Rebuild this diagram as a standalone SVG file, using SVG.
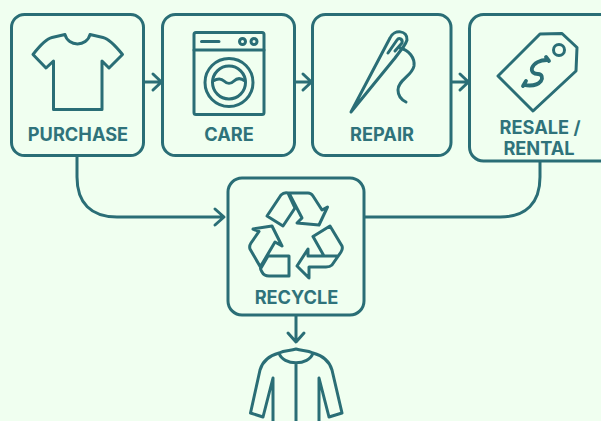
<svg xmlns="http://www.w3.org/2000/svg" width="601" height="421" viewBox="0 0 601 421">
<style>
.s{fill:none;stroke:#2a6e76;stroke-width:3;stroke-linecap:round;stroke-linejoin:round}
.b{fill:#f0fff0;stroke:#2a6e76;stroke-width:3}
.t{font-family:Inter,"Liberation Sans",sans-serif;font-weight:700;font-size:18.200px;fill:#2f737b;text-anchor:middle}
</style>
<rect width="601" height="421" fill="#f0fff0"/>
<g id="connectors" class="s">
<path d="M144 82H161M153 74L161.500 82L153 90"/>
<path d="M294 82H311M303 74L311.500 82L303 90"/>
<path d="M451 82H468M460 74L468.500 82L460 90"/>
<path d="M77 156V177C77 203 91 217 117 217H223M215 209L224 217L215 225"/>
<path d="M364 217H500C526 217 540 203 540 177V161"/>
<path d="M296 315V341M288 333L296 342L304 333"/>
</g>
<g id="purchase">
<rect class="b" x="11.500" y="14.500" width="132" height="141" rx="13"/>
<path class="s" d="M65 34.500C68 47 87 47 90 34.500L103 37.500Q110 39 122.500 54.500L109 68L102 61V109.500H53.500V61L46 68L33 54.500Q45 39 52 37.500Z"/>
<text class="t" x="78" y="140.500">PURCHASE</text>
</g>
<g id="care">
<rect class="b" x="162.500" y="14.500" width="132" height="141" rx="13"/>
<rect class="s" x="194" y="32.500" width="70" height="82" rx="2"/>
<path class="s" d="M194 50H264M201.500 41.500H219"/>
<circle class="s" cx="242.500" cy="41.500" r="3"/>
<circle class="s" cx="254" cy="41.500" r="3"/>
<circle class="s" cx="229" cy="82.500" r="24"/>
<circle class="s" cx="229" cy="82.500" r="16.500"/>
<path class="s" d="M213 81C218 78 221 78 224 81C227 84 231 84 234 81C237 78 241 78 245 81"/>
<text class="t" x="229" y="140.500">CARE</text>
</g>
<g id="repair">
<rect class="b" x="312.500" y="14.500" width="138.500" height="141" rx="13"/>
<path class="s" d="M351 112L390 38C394 29 408 30 407 40Q406 43 404 46L395 58ZM388 53L397 40C399 37 403 39 402 43L395 51"/>
<path class="s" d="M400 48C409 50 415 58 414 66C412 76 398 80 398 90C398 96 402 100 406 102"/>
<text class="t" x="382" y="140.500">REPAIR</text>
</g>
<g id="resale">
<rect class="b" x="469.500" y="14.500" width="145" height="146.500" rx="14"/>
<path class="s" d="M498 76L540 34L562 33.500L577 47.500L576 71L533 111Z"/>
<circle class="s" cx="559" cy="50" r="5.500"/>
<path class="s" style="stroke-width:3.800" d="M547 60C540 60 534 63 532 68C531 72 534 74 538 74C542 74 543 78 541 81C537 86 530 86 524 85M546 57L549 61M526 81L523 86"/>
<text class="t" x="540" y="134">RESALE /</text>
<text class="t" x="539" y="155">RENTAL</text>
</g>
<g id="recycle">
<rect class="b" x="228" y="178" width="136" height="137" rx="14"/>
<path class="s" d="M267 216L281 195Q284 192 288 193L295 208L283 226ZM288 193H308Q311 193 313 196L322 210L327.500 207L319 225L297 223L302 218L290 195"/>
<path class="s" d="M313 236.500L330 226L342 246Q343 249 341 252L332 265Q330 267 326 267L309 267V278L297 266L308 249V256H338M313 236.500L324 256"/>
<path class="s" d="M253 229L272 226L282 246L275 242L262 264Q259 268 262 272Q264 276 269 276H289V256H268L261 268L250 249Q249 246 251 243L259 231.500Z"/>
<text class="t" x="296.500" y="304">RECYCLE</text>
</g>
<g id="jacket">
<path class="s" d="M279 353C285 350 290 351 296 349C302 351 307 350 313 353C309 366 283 366 279 353ZM279 353C268 356 262 363 260 370L250.500 413L263 417L273 378V421M313 353C324 356 330 363 332 370L342 413L329 417L319 378V421M296 363V421"/>
</g>
</svg>
